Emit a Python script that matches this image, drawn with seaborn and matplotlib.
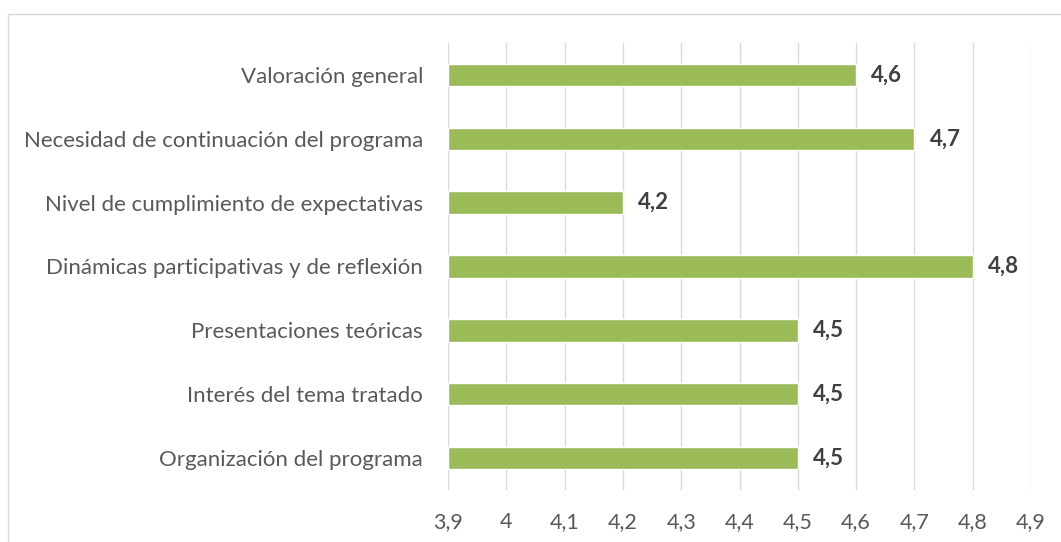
import matplotlib.pyplot as plt
import matplotlib.patches as mpatches
import seaborn as sns
import pandas as pd

# Categories (top to bottom) and their scores
categories = ["Valoración general",
              "Necesidad de continuación del programa",
              "Nivel de cumplimiento de expectativas",
              "Dinámicas participativas y de reflexión",
              "Presentaciones teóricas",
              "Interés del tema tratado",
              "Organización del programa"]
scores = [4.6, 4.7, 4.2, 4.8, 4.5, 4.5, 4.5]
xticks = [3.9, 4.0, 4.1, 4.2, 4.3, 4.4, 4.5, 4.6, 4.7, 4.8, 4.9]

df = pd.DataFrame({"cat": categories, "val": scores})

sns.set_style("white")
plt.rcParams['font.family'] = ['Lato', 'DejaVu Sans']

fig = plt.figure(figsize=(10.61, 5.42), dpi=100)
ax = fig.add_axes([448/1061, 1-490/542, 583/1061, 447/542])

# bars start at 3.9, so draw offsets from the axis minimum
sns.barplot(data=df, x="val", y="cat", color="#9BBB59", saturation=1,
            width=0.35, ax=ax, orient="h")
for p in ax.patches:
    w = p.get_width()
    p.set_x(3.9)
    p.set_width(w - 3.9)

ax.set_xlim(3.9, 4.9)
ax.set_ylim(6.5, -0.5)
ax.set_xticks(xticks)
ax.set_xticklabels([f"{t:g}".replace(".", ",") for t in xticks])
ax.set_xlabel("")
ax.set_ylabel("")
ax.grid(axis="x", color="#D9D9D9", linewidth=1)
ax.set_axisbelow(True)
for s in ax.spines.values():
    s.set_visible(False)
ax.tick_params(axis="x", length=0, pad=16, labelsize=15.5, labelcolor="#595959")
ax.tick_params(axis="y", length=0, pad=18, labelsize=16, labelcolor="#595959")

for i, v in enumerate(scores):
    ax.text(v + 0.026, i, f"{v:g}".replace(".", ","), va="center", ha="left",
            fontsize=16, fontweight="bold", color="#404040")

# light frame around chart area
fig.patches.append(mpatches.Rectangle((8/1061, -0.1), 1.2, 1.1 - 14/542,
                                      transform=fig.transFigure, fill=False,
                                      edgecolor="#D9D9D9", linewidth=1))

fig.savefig("out.png", dpi=100)
